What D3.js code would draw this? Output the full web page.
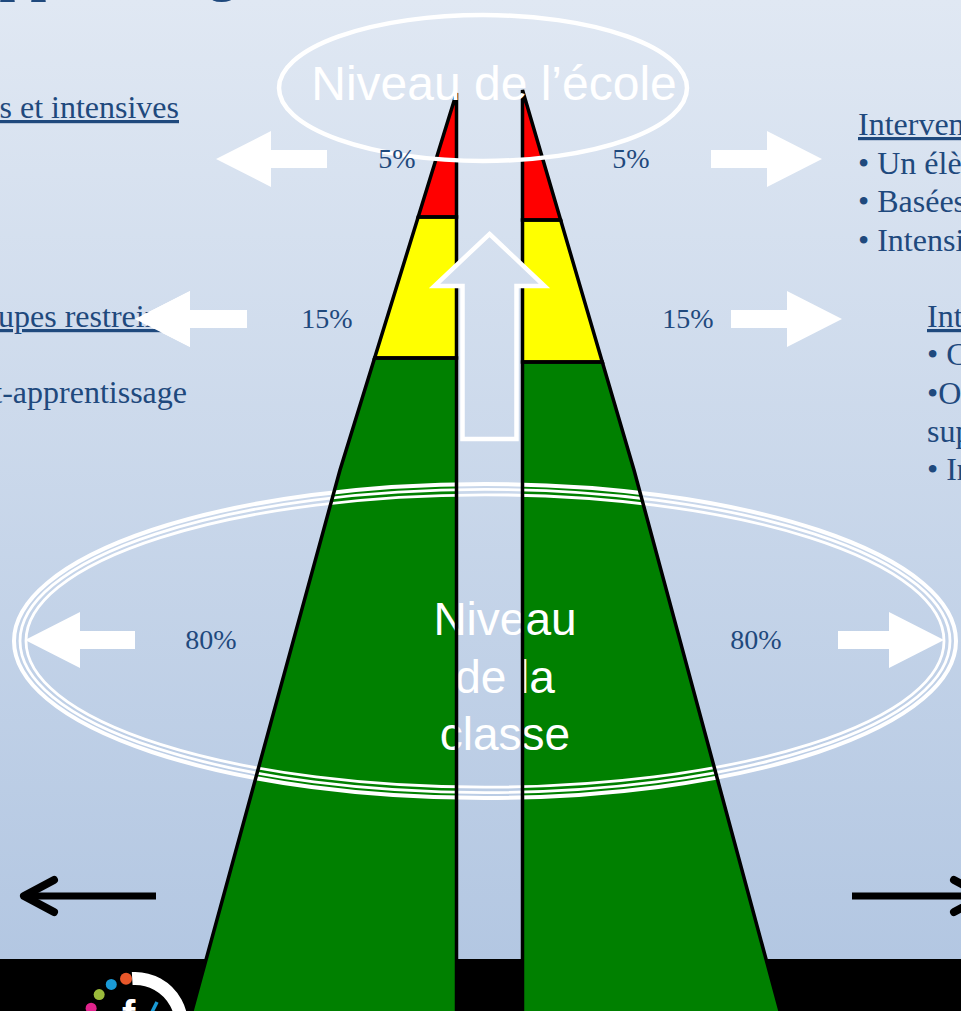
<!DOCTYPE html>
<html>
<head>
<meta charset="utf-8">
<script src="https://cdn.jsdelivr.net/npm/d3@7"></script>
<style>
  body { margin: 0; overflow: hidden; background: #000; }
  svg { display: block; }
</style>
</head>
<body>
<script>
const W = 961, H = 1011;

// ---- data ----
const tiers = ["5%", "15%", "80%"];           // top to bottom
const shares = [5, 15, 80];
const tierColors = ["#ff0000", "#ffff00", "#008000"];
const schoolLabel = "Niveau de l’école";
const classLines = ["Niveau", "de la", "classe"];
const titleText = "Approche graduée";
const leftNotes = [
  "Interventions ciblées et intensives",
  "Interventions en groupes restreints",
  "• Pré-apprentissage et post-apprentissage"
];
const rightTopNotes = [
  "Interventions intensives",
  "• Un élève à la fois",
  "• Basées sur l’évaluation",
  "• Intensives et durables"
];
const rightMidNotes = [
  "Interventions ciblées",
  "• Courtes et fréquentes",
  "•Orientées vers un soutien",
  "supplémentaire",
  "• Intensité modérée"
];
const logoDots = ["#e0238c", "#9bbb3b", "#1a9ad6", "#e8572a"];

// ---- layout ----
const serif = "'Liberation Serif', 'Times New Roman', serif";
const sans = "'Liberation Sans', Arial, sans-serif";
const ink = "#1f497d";
const bandTop = 959;

const svg = d3.select("body").append("svg")
  .attr("width", W)
  .attr("height", H);

const defs = svg.append("defs");
const grad = defs.append("linearGradient")
  .attr("id", "bg")
  .attr("gradientUnits", "userSpaceOnUse")
  .attr("x1", 0).attr("y1", 0).attr("x2", 0).attr("y2", bandTop);
grad.append("stop").attr("offset", 0).attr("stop-color", "#e0e8f3");
grad.append("stop").attr("offset", 1).attr("stop-color", "#b3c7e2");

svg.append("rect").attr("width", W).attr("height", H).attr("fill", "url(#bg)");
svg.append("rect").attr("y", bandTop).attr("width", W).attr("height", H - bandTop).attr("fill", "#000");

// title (only descenders peek in at top)
svg.append("text")
  .attr("x", -41).attr("y", -10)
  .attr("font-family", serif).attr("font-weight", "bold")
  .attr("font-size", 56).attr("fill", ink)
  .text(titleText);

// ---- pyramid scales ----
const cum = [0].concat(Array.from(d3.cumsum(shares)));
const tierData = tiers.map((t, i) => ({ label: t, from: cum[i], to: cum[i + 1], color: tierColors[i] }));

const sides = [
  {
    name: "left",
    inner: 456.5,
    y: d3.scaleLinear().domain(cum).range([93, 217, 358, 1030]),
    edge: d3.scaleLinear().domain([93, 470, 1011]).range([456.5, 340, 192])
  },
  {
    name: "right",
    inner: 522.5,
    y: d3.scaleLinear().domain(cum).range([90, 220, 362, 1030]),
    edge: d3.scaleLinear().domain([90, 470, 1011]).range([522.5, 634, 780])
  }
];

function tierPath(d, s) {
  const y0 = s.y(d.from), y1 = s.y(d.to);
  const p = d3.path();
  p.moveTo(s.inner, y0);
  p.lineTo(s.inner, y1);
  if (y1 > 470 && y0 < 470) p.lineTo(s.edge(y1), y1), p.lineTo(s.edge(470), 470);
  else p.lineTo(s.edge(y1), y1);
  p.lineTo(s.edge(y0), y0);
  p.closePath();
  return p.toString();
}

const pieces = [];
sides.forEach(s => tierData.forEach(d => pieces.push({ d, s })));

// fills
svg.append("g").selectAll("path")
  .data(pieces)
  .join("path")
  .attr("d", p => tierPath(p.d, p.s))
  .attr("fill", p => p.d.color);

// big triple ellipse (class level)
const big = svg.append("g").attr("fill", "none").attr("stroke", "#fff");
[[0, 4], [6, 2.8], [12, 2.8]].forEach(([off, sw]) => {
  big.append("ellipse")
    .attr("cx", 485).attr("cy", 641)
    .attr("rx", 471 - off).attr("ry", 157 - off * 0.9)
    .attr("stroke-width", sw);
});

svg.append("g").selectAll("text")
  .data(classLines)
  .join("text")
  .attr("x", 505)
  .attr("y", (d, i) => 635 + i * 57.5)
  .attr("text-anchor", "middle")
  .attr("font-family", sans).attr("font-size", 46)
  .attr("fill", "#fff")
  .text(d => d);

// outlines
svg.append("g").selectAll("path")
  .data(pieces)
  .join("path")
  .attr("d", p => tierPath(p.d, p.s))
  .attr("fill", "none")
  .attr("stroke", "#000")
  .attr("stroke-width", 3.5)
  .attr("stroke-linejoin", "miter");

// hollow up arrow
function upArrow(cx, tipY, headY, bottomY, headHalf, shaftHalf) {
  const p = d3.path();
  p.moveTo(cx, tipY);
  p.lineTo(cx + headHalf, headY);
  p.lineTo(cx + shaftHalf, headY);
  p.lineTo(cx + shaftHalf, bottomY);
  p.lineTo(cx - shaftHalf, bottomY);
  p.lineTo(cx - shaftHalf, headY);
  p.lineTo(cx - headHalf, headY);
  p.closePath();
  return p.toString();
}
svg.append("path")
  .attr("d", upArrow(489.5, 234, 286, 439, 55, 27))
  .attr("fill", "url(#bg)")
  .attr("stroke", "#fff")
  .attr("stroke-width", 4.5);

// top ellipse (school level)
svg.append("ellipse")
  .attr("cx", 483).attr("cy", 88)
  .attr("rx", 204).attr("ry", 73)
  .attr("fill", "none").attr("stroke", "#fff").attr("stroke-width", 4.5);
svg.append("text")
  .attr("x", 494).attr("y", 100)
  .attr("text-anchor", "middle")
  .attr("font-family", sans).attr("font-size", 48)
  .attr("fill", "#fff")
  .text(schoolLabel);

// side block arrows
function blockArrow(tipX, y, dir, len) {
  const headLen = 55, shaftH = 18, headH = 56;
  const baseX = tipX - dir * headLen, tailX = tipX - dir * len;
  const p = d3.path();
  p.moveTo(tipX, y);
  p.lineTo(baseX, y - headH / 2);
  p.lineTo(baseX, y - shaftH / 2);
  p.lineTo(tailX, y - shaftH / 2);
  p.lineTo(tailX, y + shaftH / 2);
  p.lineTo(baseX, y + shaftH / 2);
  p.lineTo(baseX, y + headH / 2);
  p.closePath();
  return p.toString();
}
const rowY = [159, 319, 640];
const leftTip = [216, 135, 25], leftLen = [111, 112, 110];
const rightTip = [822, 842, 944], rightLen = [111, 111, 106];
const leftLabelX = [397, 327, 211], rightLabelX = [631, 688, 756];

const rows = svg.append("g").selectAll("g")
  .data(tierData)
  .join("g");
rows.append("path")
  .attr("d", (d, i) => blockArrow(leftTip[i], rowY[i], -1, leftLen[i]))
  .attr("fill", "#fff");
rows.append("path")
  .attr("d", (d, i) => blockArrow(rightTip[i], rowY[i], 1, rightLen[i]))
  .attr("fill", "#fff");
rows.append("text")
  .attr("x", (d, i) => leftLabelX[i]).attr("y", (d, i) => rowY[i] + 9)
  .attr("text-anchor", "middle")
  .attr("font-family", serif).attr("font-size", 28).attr("fill", ink)
  .text(d => d.label);
rows.append("text")
  .attr("x", (d, i) => rightLabelX[i]).attr("y", (d, i) => rowY[i] + 9)
  .attr("text-anchor", "middle")
  .attr("font-family", serif).attr("font-size", 28).attr("fill", ink)
  .text(d => d.label);

// side notes
const noteFont = 32;
const leftPos = [[179, 118, true], [182, 327, true], [187, 403, false]];
svg.append("g").selectAll("text")
  .data(leftNotes)
  .join("text")
  .attr("x", (d, i) => leftPos[i][0])
  .attr("y", (d, i) => leftPos[i][1])
  .attr("text-anchor", "end")
  .attr("font-family", serif).attr("font-size", noteFont).attr("fill", ink)
  .style("text-decoration", (d, i) => leftPos[i][2] ? "underline" : "none")
  .text(d => d);
// redraw mid-left arrow over its note (arrow covers the end of the text)
svg.append("path").attr("d", blockArrow(leftTip[1], rowY[1], -1, leftLen[1])).attr("fill", "#fff");

svg.append("g").selectAll("text")
  .data(rightTopNotes)
  .join("text")
  .attr("x", 858)
  .attr("y", (d, i) => 135 + i * 38.5)
  .attr("font-family", serif).attr("font-size", noteFont).attr("fill", ink)
  .style("text-decoration", (d, i) => i === 0 ? "underline" : "none")
  .text(d => d);

const midY = [327, 365, 404, 442, 480];
svg.append("g").selectAll("text")
  .data(rightMidNotes)
  .join("text")
  .attr("x", 927)
  .attr("y", (d, i) => midY[i])
  .attr("font-family", serif).attr("font-size", noteFont).attr("fill", ink)
  .style("text-decoration", (d, i) => i === 0 ? "underline" : "none")
  .text(d => d);

// black line arrows near the base
function lineArrow(g, x0, x1, y, dir) {
  const tip = dir < 0 ? x0 : x1;
  g.append("line")
    .attr("x1", x0).attr("x2", x1).attr("y1", y).attr("y2", y)
    .attr("stroke", "#000").attr("stroke-width", 7);
  g.append("path")
    .attr("d", `M${tip - dir * 30},${y - 16}L${tip},${y}L${tip - dir * 30},${y + 16}`)
    .attr("fill", "none").attr("stroke", "#000").attr("stroke-width", 8)
    .attr("stroke-linecap", "round").attr("stroke-linejoin", "round");
}
const arrows = svg.append("g");
lineArrow(arrows, 24, 156, 896, -1);
lineArrow(arrows, 852, 984, 896, 1);

// logo fragment on the black band
const logo = svg.append("g").attr("transform", "translate(135,1025)");
logo.append("path")
  .attr("d", d3.arc()({ innerRadius: 40, outerRadius: 53, startAngle: -0.06, endAngle: 2.2 }))
  .attr("fill", "#fff");
const dotAngle = d3.scaleLinear().domain([0, logoDots.length - 1]).range([-69, -11]);
logo.selectAll("circle")
  .data(logoDots)
  .join("circle")
  .attr("cx", (d, i) => 47 * Math.sin(dotAngle(i) * Math.PI / 180))
  .attr("cy", (d, i) => -47 * Math.cos(dotAngle(i) * Math.PI / 180))
  .attr("r", (d, i) => i === 3 ? 6 : 5.5)
  .attr("fill", d => d);
logo.append("text")
  .attr("x", -13).attr("y", 4)
  .attr("font-family", sans).attr("font-weight", "bold").attr("font-size", 40)
  .attr("fill", "#fff")
  .text("f");
logo.append("line")
  .attr("x1", 17).attr("y1", -13).attr("x2", 22).attr("y2", -23)
  .attr("stroke", "#1a9ad6").attr("stroke-width", 3.5);
</script>
</body>
</html>
